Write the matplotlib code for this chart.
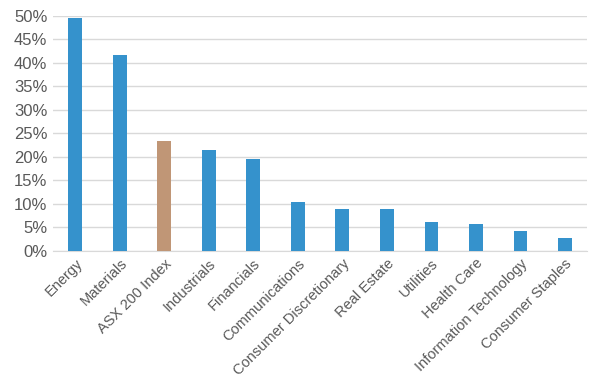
import matplotlib.pyplot as plt
from matplotlib.ticker import FuncFormatter

sectors = ['Energy', 'Materials', 'ASX 200 Index', 'Industrials', 'Financials',
           'Communications', 'Consumer Discretionary', 'Real Estate', 'Utilities',
           'Health Care', 'Information Technology', 'Consumer Staples']
returns = [49.5, 41.6, 23.4, 21.5, 19.6, 10.4, 8.9, 8.8, 6.2, 5.6, 4.3, 2.8]
highlight = 'ASX 200 Index'

blue = '#3592CC'
tan = '#C09676'
colors = [tan if s == highlight else blue for s in sectors]

plt.rcParams['font.family'] = ['Liberation Sans', 'DejaVu Sans']

fig, ax = plt.subplots(figsize=(5.89, 3.80), dpi=100)
fig.subplots_adjust(left=0.09, right=0.997, top=0.958, bottom=0.34)

x = range(len(sectors))
ax.bar(x, returns, width=0.31, color=colors, zorder=3)

ax.set_ylim(0, 50)
ax.set_yticks(range(0, 51, 5))
ax.yaxis.set_major_formatter(FuncFormatter(lambda v, p: f'{int(v)}%'))
ax.set_xlim(-0.5, len(sectors) - 0.5)
ax.set_xticks(list(x))
ax.set_xticklabels(sectors, rotation=45, ha='right', rotation_mode='anchor')

ax.grid(axis='y', color='#D9D9D9', linewidth=1, zorder=0)
for s in ['top', 'right', 'left']:
    ax.spines[s].set_visible(False)
ax.spines['bottom'].set_color('#D9D9D9')
ax.tick_params(axis='both', length=0, labelsize=10.5, colors='#595959', pad=4)
ax.tick_params(axis='y', labelsize=12)

fig.savefig('out.png')
